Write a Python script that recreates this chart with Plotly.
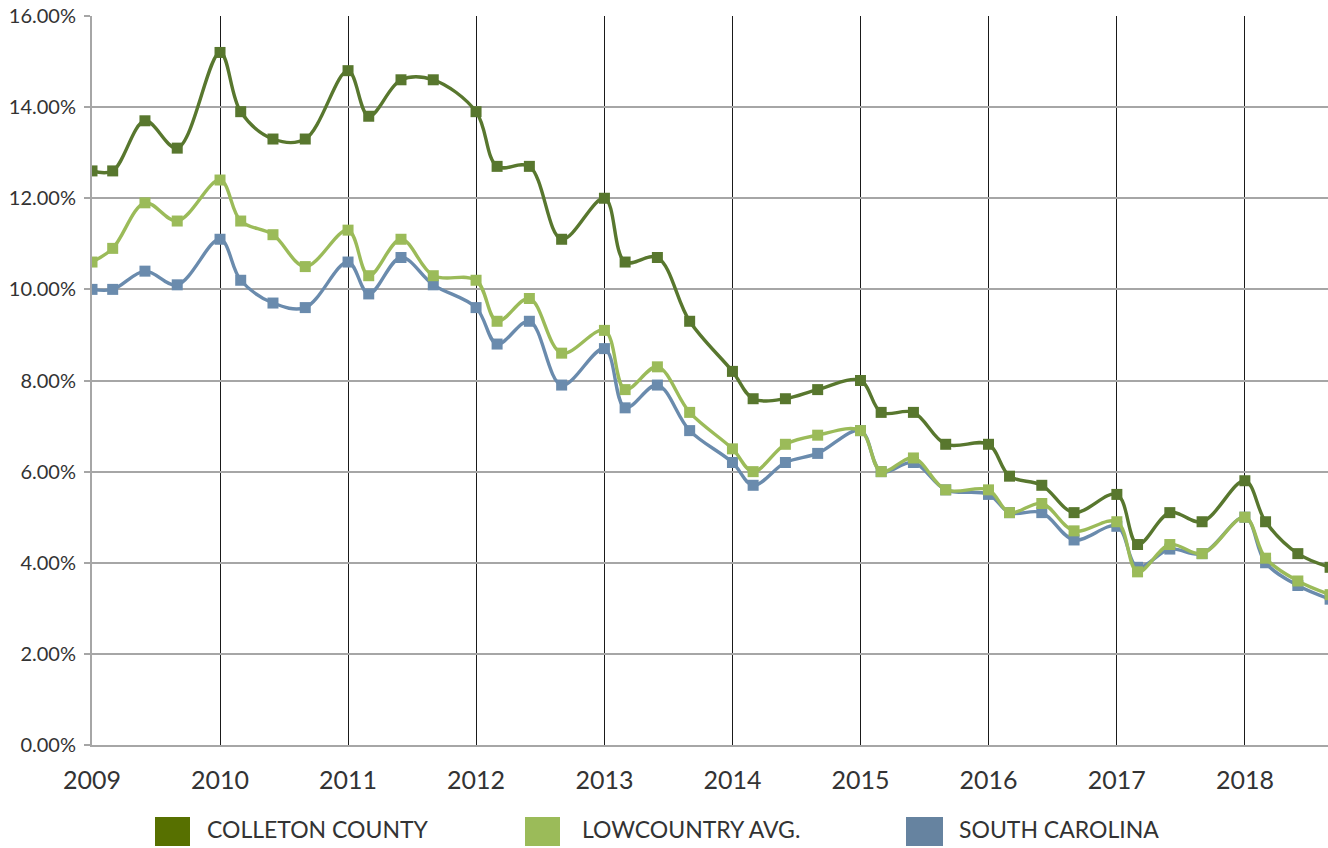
import plotly.graph_objects as go

dates = [
    "2009-01-01", "2009-03-01", "2009-06-01", "2009-09-01",
    "2010-01-01", "2010-03-01", "2010-06-01", "2010-09-01",
    "2011-01-01", "2011-03-01", "2011-06-01", "2011-09-01",
    "2012-01-01", "2012-03-01", "2012-06-01", "2012-09-01",
    "2013-01-01", "2013-03-01", "2013-06-01", "2013-09-01",
    "2014-01-01", "2014-03-01", "2014-06-01", "2014-09-01",
    "2015-01-01", "2015-03-01", "2015-06-01", "2015-09-01",
    "2016-01-01", "2016-03-01", "2016-06-01", "2016-09-01",
    "2017-01-01", "2017-03-01", "2017-06-01", "2017-09-01",
    "2018-01-01", "2018-03-01", "2018-06-01", "2018-09-01",
]

colleton = [
    12.6, 12.6, 13.7, 13.1, 15.2, 13.9, 13.3, 13.3, 14.8, 13.8,
    14.6, 14.6, 13.9, 12.7, 12.7, 11.1, 12.0, 10.6, 10.7, 9.3,
    8.2, 7.6, 7.6, 7.8, 8.0, 7.3, 7.3, 6.6, 6.6, 5.9,
    5.7, 5.1, 5.5, 4.4, 5.1, 4.9, 5.8, 4.9, 4.2, 3.9,
]
lowcountry = [
    10.6, 10.9, 11.9, 11.5, 12.4, 11.5, 11.2, 10.5, 11.3, 10.3,
    11.1, 10.3, 10.2, 9.3, 9.8, 8.6, 9.1, 7.8, 8.3, 7.3,
    6.5, 6.0, 6.6, 6.8, 6.9, 6.0, 6.3, 5.6, 5.6, 5.1,
    5.3, 4.7, 4.9, 3.8, 4.4, 4.2, 5.0, 4.1, 3.6, 3.3,
]
south_carolina = [
    10.0, 10.0, 10.4, 10.1, 11.1, 10.2, 9.7, 9.6, 10.6, 9.9,
    10.7, 10.1, 9.6, 8.8, 9.3, 7.9, 8.7, 7.4, 7.9, 6.9,
    6.2, 5.7, 6.2, 6.4, 6.9, 6.0, 6.2, 5.6, 5.5, 5.1,
    5.1, 4.5, 4.8, 3.9, 4.3, 4.2, 5.0, 4.0, 3.5, 3.2,
]

series_names = ["COLLETON COUNTY", "LOWCOUNTRY AVG.", "SOUTH CAROLINA"]
line_colors = ["#58772e", "#9bbb59", "#6a8bad"]
legend_colors = ["#577000", "#9bbb59", "#6683a0"]

FONT = "Lato"
TEXT = "#333333"

fig = go.Figure()
# draw order: Colleton, South Carolina, Lowcountry (lowcountry on top)
order = [(0, colleton), (2, south_carolina), (1, lowcountry)]
for idx, vals in order:
    fig.add_trace(go.Scatter(
        x=dates, y=vals, name=series_names[idx], mode="lines+markers",
        line=dict(color=line_colors[idx], width=3.4, shape="spline", smoothing=1.0),
        marker=dict(symbol="square", size=11, color=line_colors[idx]),
        showlegend=False,
    ))

# legend drawn as boxes + labels below the plot
L, W, B, H = 92, 1236, 745, 729
def px(x):
    return (x - L) / W
def py(y):
    return (B - y) / H

legend_boxes = [(155, 190), (525, 560), (906, 943)]
legend_text_x = [205, 580, 957]
for i in range(3):
    x0, x1 = legend_boxes[i]
    fig.add_shape(type="rect", xref="paper", yref="paper",
                  x0=px(x0), x1=px(x1), y0=py(846), y1=py(817),
                  fillcolor=legend_colors[i], line=dict(width=0))
    fig.add_annotation(xref="paper", yref="paper", x=px(legend_text_x[i]), y=py(829),
                       text=series_names[i], showarrow=False, xanchor="left", yanchor="middle",
                       font=dict(family=FONT, size=23, color=TEXT))

fig.update_layout(
    width=1328, height=848,
    margin=dict(l=92, r=0, t=16, b=103),
    paper_bgcolor="white", plot_bgcolor="white",
    font=dict(family=FONT, color=TEXT),
    xaxis=dict(
        type="date", range=["2009-01-01", "2018-08-26"],
        tick0="2009-01-01", dtick="M12", tickformat="%Y",
        showgrid=True, gridcolor="#1a1a1a", gridwidth=1,
        showline=True, linecolor="#a6a6a6", linewidth=2,
        ticks="", ticklabelstandoff=12, automargin=False,
        tickfont=dict(family=FONT, size=25, color=TEXT),
        zeroline=False,
    ),
    yaxis=dict(
        range=[0, 16], tick0=0, dtick=2, tickformat=".2f", ticksuffix="%",
        showgrid=True, gridcolor="#a6a6a6", gridwidth=1.5,
        showline=True, linecolor="#a6a6a6", linewidth=2,
        ticks="outside", ticklen=6, tickcolor="#a6a6a6", tickwidth=1.5,
        ticklabelstandoff=4, automargin=False,
        tickfont=dict(family=FONT, size=20, color=TEXT),
        zeroline=False,
    ),
)

fig.write_html("out.html", config={"displayModeBar": False},
               post_script="document.body.style.margin='0';document.body.style.overflow='hidden';")
